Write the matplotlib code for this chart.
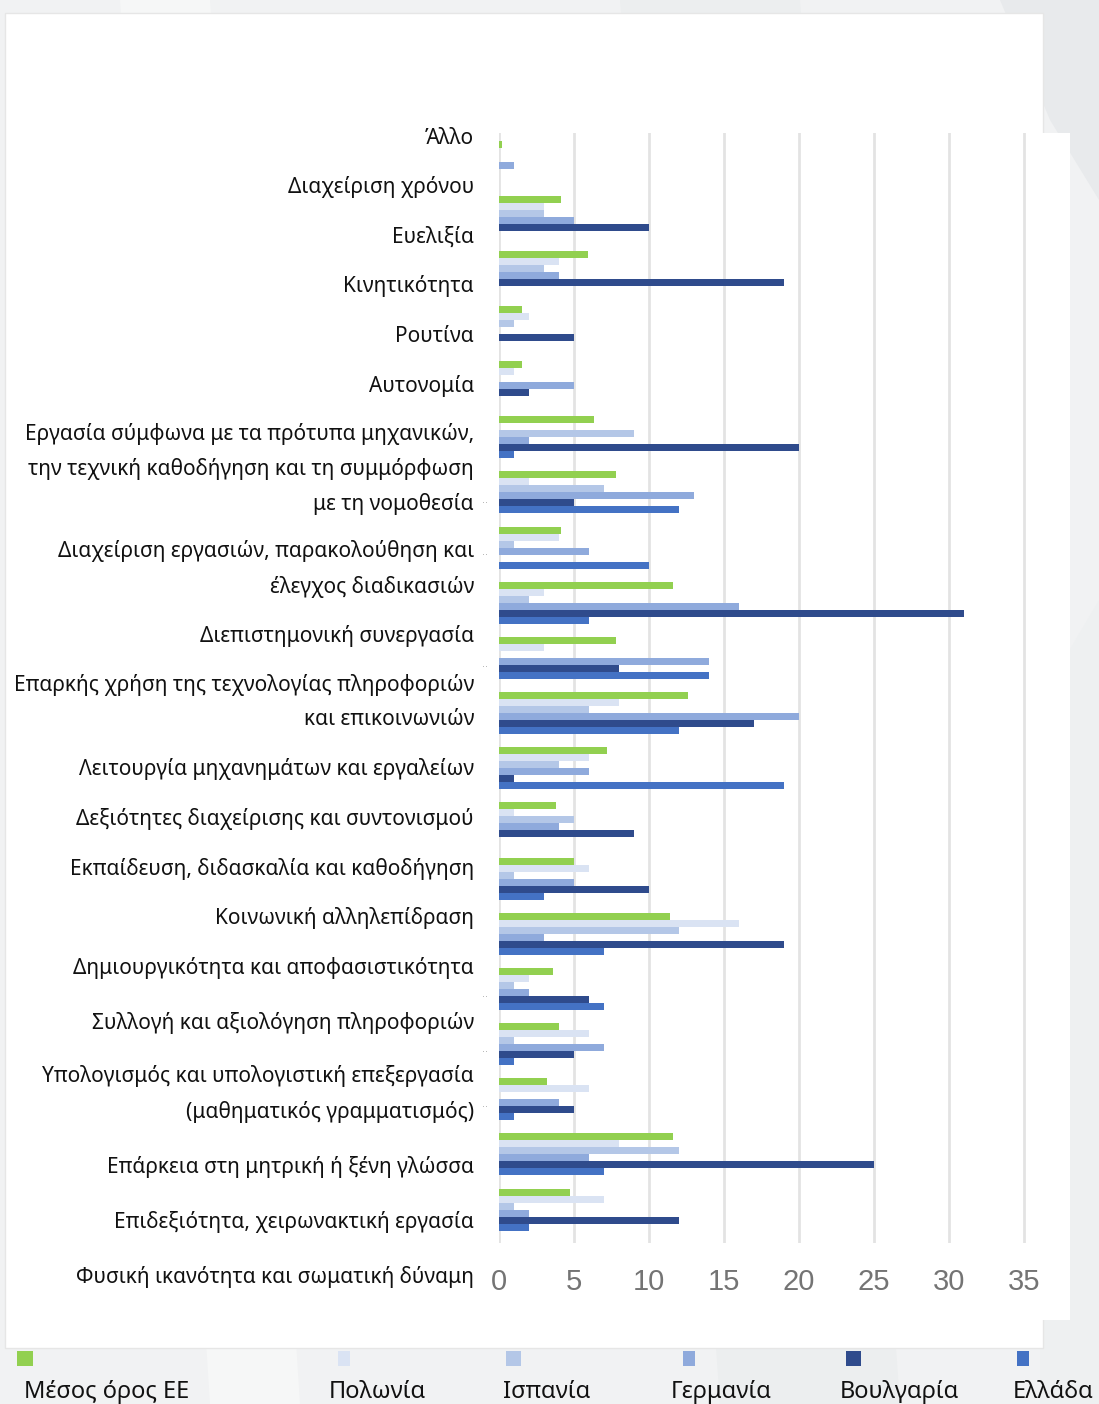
import matplotlib
matplotlib.use("Agg")
import matplotlib.pyplot as plt
import numpy as np
from matplotlib.patches import Rectangle, Polygon

categories = [
    "Άλλο",
    "Διαχείριση χρόνου",
    "Ευελιξία",
    "Κινητικότητα",
    "Ρουτίνα",
    "Αυτονομία",
    "Εργασία σύμφωνα με τα πρότυπα μηχανικών,\nτην τεχνική καθοδήγηση και τη συμμόρφωση\nμε τη νομοθεσία",
    "Διαχείριση εργασιών, παρακολούθηση και\nέλεγχος διαδικασιών",
    "Διεπιστημονική συνεργασία",
    "Επαρκής χρήση της τεχνολογίας πληροφοριών\nκαι επικοινωνιών",
    "Λειτουργία μηχανημάτων και εργαλείων",
    "Δεξιότητες διαχείρισης και συντονισμού",
    "Εκπαίδευση, διδασκαλία και καθοδήγηση",
    "Κοινωνική αλληλεπίδραση",
    "Δημιουργικότητα και αποφασιστικότητα",
    "Συλλογή και αξιολόγηση πληροφοριών",
    "Υπολογισμός και υπολογιστική επεξεργασία\n(μαθηματικός γραμματισμός)",
    "Επάρκεια στη μητρική ή ξένη γλώσσα",
    "Επιδεξιότητα, χειρωνακτική εργασία",
    "Φυσική ικανότητα και σωματική δύναμη",
]

series_names = ["Μέσος όρος ΕΕ", "Πολωνία", "Ισπανία", "Γερμανία", "Βουλγαρία", "Ελλάδα"]

eu_avg    = [0.2, 4.1, 5.9, 1.5, 1.5, 6.3, 7.8, 4.1, 11.6, 7.8, 12.6, 7.2, 3.8, 5.0, 11.4, 3.6, 4.0, 3.2, 11.6, 4.7]
poland    = [0,   3,   4,   2,   1,   0,   2,   4,   3,    3,   8,    6,   1,   6,   16,   2,   6,   6,   8,    7]
spain     = [0,   3,   3,   1,   0,   9,   7,   1,   2,    0,   6,    4,   5,   1,   12,   1,   1,   0,   12,   1]
germany   = [1,   5,   4,   0,   5,   2,   13,  6,   16,   14,  20,   6,   4,   5,   3,    2,   7,   4,   6,    2]
bulgaria  = [0,   10,  19,  5,   2,   20,  5,   0,   31,   8,   17,   1,   9,   10,  19,   6,   5,   5,   25,   12]
greece    = [0,   0,   0,   0,   0,   1,   12,  10,  6,    14,  12,   19,  0,   3,   7,    7,   1,   1,   7,    2]

xticks = [0, 5, 10, 15, 20, 25, 30, 35]

colors = ["#92d050", "#dae3f3", "#b4c7e7", "#8faadc", "#2f4b8c", "#4472c4"]

W, H = 1099, 1404
fig = plt.figure(figsize=(W / 100, H / 100), dpi=100)
fig.patch.set_facecolor("#f1f2f3")

def fx(px):
    return px / W

def fy(py):
    return 1 - py / H

# subtle background stripes
bg = fig.add_axes([0, 0, 1, 1], zorder=-10)
bg.set_xlim(0, W)
bg.set_ylim(H, 0)
bg.axis("off")
for pts, c in [
    ([(120, 0), (210, 0), (300, 1404), (210, 1404)], "#f6f7f7"),
    ([(620, 0), (800, 0), (900, 1404), (720, 1404)], "#eceeef"),
    ([(1000, 0), (1099, 0), (1099, 200), (1050, 120)], "#e8eaec"),
    ([(1040, 700), (1099, 600), (1099, 1404), (1040, 1404)], "#eef0f1"),
]:
    bg.add_patch(Polygon(pts, closed=True, facecolor=c, edgecolor="none"))
# white panels
bg.add_patch(Rectangle((5, 13), 1038, 1335, facecolor="white", edgecolor="#e6e6e6", lw=1))
bg.add_patch(Rectangle((1026, 133), 44, 1187, facecolor="white", edgecolor="none"))

# bar axes
ax_left, ax_right = 499, 1069
ax_top, ax_bot = 133, 1243
ax = fig.add_axes([fx(ax_left), fy(ax_bot), (ax_right - ax_left) / W, (ax_bot - ax_top) / H])
ax.set_facecolor("none")

data = [eu_avg, poland, spain, germany, bulgaria, greece]
n = len(categories)
pos = np.arange(n)
h = 0.127
for k, (vals, c, name) in enumerate(zip(data, colors, series_names)):
    ax.barh(pos + (k - 2.5) * h, vals, height=h, color=c, label=name, zorder=3)

ax.set_xlim(0, 38.0)
ax.set_ylim(19.607, -0.517)
ax.set_xticks(xticks)
ax.set_xticklabels([str(t) for t in xticks], fontsize=21, color="#747474",
                   family=["Liberation Sans Narrow", "Liberation Sans", "DejaVu Sans"])
ax.tick_params(axis="x", length=0, pad=18)
ax.set_yticks([])
ax.grid(axis="x", color="#e3e3e3", lw=2, zorder=0)
for s in ax.spines.values():
    s.set_visible(False)

# category labels (placed as in the reference)
label_y = [138, 187, 237, 286, 336, 386, 469, 569, 636, 702, 769, 819, 869, 918, 968, 1023, 1094, 1167, 1222, 1277]
for txt, yy in zip(categories, label_y):
    fig.text(fx(474), fy(yy), txt, ha="right", va="center", fontsize=15,
             family=["Noto Sans", "DejaVu Sans"], color="#111111", linespacing=1.78)

# tiny marks near labels
for yy in [503, 555, 667, 997, 1052, 1107]:
    fig.text(fx(485), fy(yy), "··", ha="center", va="center", fontsize=7, color="#aaaaaa")

# legend
leg_sq_x = [17, 338, 506, 683, 846, 1017]
leg_sq_w = [16, 12, 15, 12, 15, 12]
leg_txt_x = [24, 329, 503, 671, 840, 1013]
for name, c, sx, sw, tx in zip(series_names, colors, leg_sq_x, leg_sq_w, leg_txt_x):
    bg.add_patch(Rectangle((sx, 1351), sw, 15, facecolor=c, edgecolor="none"))
    fig.text(fx(tx), fy(1392), name, ha="left", va="center", fontsize=17,
             family=["Noto Sans", "DejaVu Sans"], color="#111111")

fig.savefig("out.png", dpi=100, facecolor=fig.get_facecolor())
